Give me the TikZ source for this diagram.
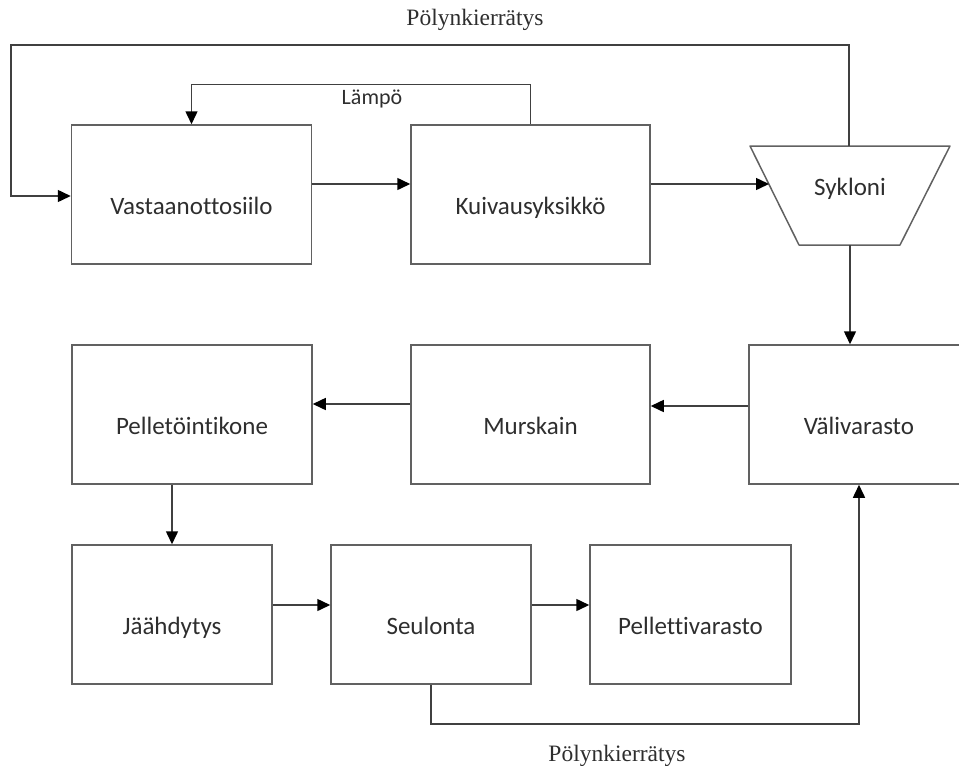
\documentclass[tikz,border=0pt]{standalone}
\usepackage{fontspec}
\setsansfont{Carlito}[Ligatures=NoCommon]
\newfontfamily\timesfont{Liberation Serif}
\usetikzlibrary{arrows.meta}

\begin{document}
\begin{tikzpicture}[x=1pt, y=-1pt,
	box/.style={draw=black!62, line width=1.5pt, text=black!82,
		font=\sffamily\fontsize{25}{29}\selectfont,
		text height=45pt, text depth=5pt, minimum height=139pt},
	conn/.style={draw=black!75, line width=1.5pt},
	arr/.style={conn, -{Triangle[length=13pt, width=12pt, color=black]}},
	tag/.style={anchor=base, text=black!82}]
	\useasboundingbox (0,0) rectangle (959,766);

	% boxes
	\node[box, minimum width=240pt] (siilo) at (191.5,194.5) {Vastaanottosiilo};
	\node[box, minimum width=239pt] (kuivaus) at (530.5,194.5) {Kuivausyksikkö};
	\node[box, minimum width=240pt] (pelletointi) at (192,414.5) {Pelletöintikone};
	\node[box, minimum width=239pt] (murskain) at (530.5,414.5) {Murskain};
	\node[box, minimum width=220pt] (vali) at (859,414.5) {Välivarasto};
	\node[box, minimum width=200pt] (jaahdytys) at (172,614.5) {Jäähdytys};
	\node[box, minimum width=200pt] (seulonta) at (431,614.5) {Seulonta};
	\node[box, minimum width=201pt] (pvarasto) at (690.5,614.5) {Pellettivarasto};

	% cyclone
	\coordinate (syA) at (750,146);
	\coordinate (syB) at (950,146);
	\coordinate (syC) at (900,245);
	\coordinate (syD) at (799,245);
	\draw[conn, draw=black!62, line join=round] (syA) -- (syB) -- (syC) -- (syD) -- cycle;
	\node[tag, font=\sffamily\fontsize{25}{29}\selectfont] (sykloni) at (850,195) {Sykloni};
	\coordinate (syIn) at (769,184);
	\coordinate (syTop) at (849,146);
	\coordinate (syBot) at (850,245);
	\coordinate (loopL) at (11,45);

	% arrows
	\draw[arr] (siilo.east |- syIn) -- (kuivaus.west |- syIn);
	\draw[arr] (kuivaus.east |- syIn) -- (syIn);
	\draw[arr] (kuivaus.north) -- ++(0,-40) -| (siilo.north);
	\draw[arr] (syTop) |- (loopL) |- (siilo.west |- 0,196);
	\draw[arr] (syBot) -- (syBot |- vali.north);
	\draw[arr] (vali.west |- 0,406) -- (murskain.east |- 0,406);
	\draw[arr] (murskain.west |- 0,404) -- (pelletointi.east |- 0,404);
	\draw[arr] (jaahdytys.north |- pelletointi.south) -- (jaahdytys.north);
	\draw[arr] (jaahdytys.east |- 0,605) -- (seulonta.west |- 0,605);
	\draw[arr] (seulonta.east |- 0,605) -- (pvarasto.west |- 0,605);
	\draw[arr] (seulonta.south) -- ++(0,39) -| (vali.south);

	% labels
	\node[tag, font=\sffamily\fontsize{22}{26}\selectfont] (lampo) at (372,104) {Lämpö};
	\node[tag, font=\timesfont\fontsize{23.5}{28}\selectfont] (polyA) at (475,25) {Pölynkierrätys};
	\node[tag, font=\timesfont\fontsize{23.5}{28}\selectfont] (polyB) at (617,761) {Pölynkierrätys};
\end{tikzpicture}
\end{document}
